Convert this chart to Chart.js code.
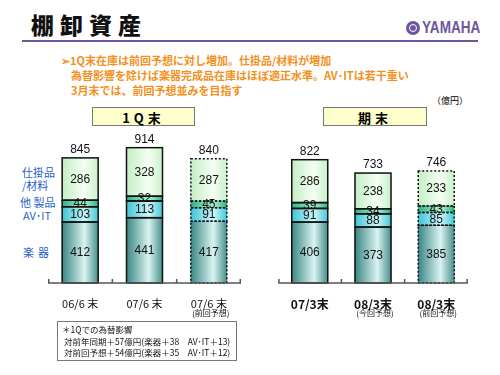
<!DOCTYPE html>
<html><head><meta charset="utf-8">
<script src="https://cdn.jsdelivr.net/npm/chart.js@4/dist/chart.umd.min.js"></script>
<style>
body{margin:0;width:500px;height:375px;background:#fff;position:relative;overflow:hidden;font-family:"Noto Sans CJK JP","Liberation Sans",sans-serif;}
.a{position:absolute;white-space:nowrap;}
#title{left:31px;top:8px;font-size:23px;font-weight:900;letter-spacing:6px;color:#111;line-height:32px;}
#rule{left:22px;top:40px;width:456px;height:2px;background:#6f55a0;}
#logo{left:406px;top:19px;height:18px;display:flex;align-items:center;color:#6f55a0;font-family:"Liberation Sans",sans-serif;font-weight:bold;font-size:17px;}
#logo .tx{display:inline-block;transform:scaleX(0.8);transform-origin:left center;}
#logo .em{width:14px;height:14px;border-radius:50%;background:#6f55a0;margin-right:2px;position:relative;flex:none;}
#logo .em:after{content:"";position:absolute;left:3px;top:3px;width:8px;height:8px;border-radius:50%;border:1px solid #fff;box-sizing:border-box;}
.note{color:#f39020;font-size:11px;font-weight:bold;line-height:15px;}
.hdr{background:#ffffcc;border:1px solid #777;height:19px;line-height:19px;text-align:center;font-weight:bold;font-size:13px;letter-spacing:4px;box-sizing:border-box;}
.lg{color:#1f5fc8;font-size:11px;line-height:13px;}
.cv{position:absolute;}
#foot{left:57px;top:321px;width:180px;height:40px;border:1px solid #777;box-sizing:border-box;font-size:8.5px;line-height:11.5px;padding:2px 0 0 4px;color:#111;}
</style></head><body>
<div class="a" id="title">棚卸資産</div>
<div class="a" id="rule"></div>
<div class="a" id="logo"><span class="em"></span><span class="tx">YAMAHA</span></div>
<div class="a note" style="left:61px;top:53px;">➢1Q末在庫は前回予想に対し増加。仕掛品/材料が増加</div>
<div class="a note" style="left:71px;top:68px;">為替影響を除けば楽器完成品在庫はほぼ適正水準。AV･ITは若干重い</div>
<div class="a note" style="left:71px;top:83px;">3月末では、前回予想並みを目指す</div>
<div class="a" style="left:432px;top:94px;font-size:9px;">（億円）</div>
<div class="a hdr" style="left:92px;top:107px;width:103px;">1Q末</div>
<div class="a hdr" style="left:323px;top:107px;width:104px;">期末</div>
<div class="a lg" style="left:22px;top:166px;">仕掛品</div>
<div class="a lg" style="left:22px;top:179px;">/材料</div>
<div class="a lg" style="left:20px;top:196px;">他 製品</div>
<div class="a lg" style="left:23px;top:209px;">AV･IT</div>
<div class="a lg" style="left:23px;top:246px;letter-spacing:4px;">楽器</div>
<div class="cv" style="left:48px;top:100px;width:193px;height:228px;"><canvas id="c1"></canvas></div>
<div class="cv" style="left:277px;top:100px;width:192px;height:228px;"><canvas id="c2"></canvas></div>
<div class="a" id="foot">＊1Qでの為替影響<br>&nbsp;対前年同期＋57億円(楽器＋38　AV･IT＋13)<br>&nbsp;対前回予想＋54億円(楽器＋35　AV･IT＋12)</div>
<script>
// ---- data ----
const leftLabels = ['06/6 末', '07/6 末', '07/6 末'];
const leftSub = ['', '', '(前回予想)'];
const leftGakki = [412, 441, 417];
const leftAvit = [103, 113, 91];
const leftOther = [44, 32, 45];
const leftWip = [286, 328, 287];
const leftTotal = [845, 914, 840];
const leftForecast = [false, false, true];

const rightLabels = ['07/3末', '08/3末', '08/3末'];
const rightSub = ['', '(今回予想)', '(前回予想)'];
const rightGakki = [406, 373, 385];
const rightAvit = [91, 88, 85];
const rightOther = [39, 34, 43];
const rightWip = [286, 238, 233];
const rightTotal = [822, 733, 746];
const rightForecast = [false, false, true];

// ---- styles ----
const STOPS = [
  ['#3a8784', '#d9f3f1', '#478f8c'],
  ['#3ec4d4', '#cdf7fa', '#44c6d6'],
  ['#2bb485', '#aef2d0', '#2bb485'],
  ['#c4eec4', '#f4fff4', '#c9f0c9']
];

const decor = {
  id: 'decor',
  beforeDatasetsDraw(chart) {
    const ctx = chart.ctx;
    chart.data.datasets.forEach((ds, di) => {
      const st = STOPS[di];
      chart.getDatasetMeta(di).data.forEach((el) => {
        const p = el.getProps(['x', 'width'], true);
        if (!isFinite(p.x)) return;
        const g = ctx.createLinearGradient(p.x - p.width / 2, 0, p.x + p.width / 2, 0);
        g.addColorStop(0, st[0]);
        g.addColorStop(0.62, st[1]);
        g.addColorStop(1, st[2]);
        el.options = Object.assign({}, el.options, { backgroundColor: g });
      });
    });
  },
  afterDatasetsDraw(chart, args, o) {
    const ctx = chart.ctx, ca = chart.chartArea, xs = chart.scales.x;
    ctx.save();
    // outlines
    chart.data.datasets.forEach((ds, di) => {
      chart.getDatasetMeta(di).data.forEach((el, i) => {
        const p = el.getProps(['x', 'y', 'base', 'width'], true);
        ctx.lineWidth = 1.5;
        ctx.strokeStyle = '#111';
        ctx.setLineDash(o.forecast[i] ? [2, 2] : []);
        ctx.strokeRect(p.x - p.width / 2, p.y, p.width, p.base - p.y);
      });
    });
    ctx.setLineDash([]);
    // axis line + ticks
    ctx.strokeStyle = '#555';
    ctx.lineWidth = 1.5;
    ctx.beginPath();
    ctx.moveTo(ca.left + 0.75, ca.bottom - 4);
    ctx.lineTo(ca.left + 0.75, ca.bottom);
    ctx.lineTo(ca.right - 0.75, ca.bottom);
    ctx.lineTo(ca.right - 0.75, ca.bottom - 4);
    const n = chart.data.labels.length;
    for (let i = 0; i < n - 1; i++) {
      const xm = (xs.getPixelForValue(i) + xs.getPixelForValue(i + 1)) / 2;
      ctx.moveTo(xm, ca.bottom);
      ctx.lineTo(xm, ca.bottom - 4);
    }
    ctx.stroke();
    // value labels
    ctx.fillStyle = '#111';
    ctx.font = '12px "Liberation Sans", sans-serif';
    ctx.textAlign = 'center';
    ctx.textBaseline = 'middle';
    chart.data.datasets.forEach((ds, di) => {
      chart.getDatasetMeta(di).data.forEach((el, i) => {
        const p = el.getProps(['x', 'y', 'base'], true);
        ctx.fillText(String(ds.data[i]), p.x, (p.y + p.base) / 2 + 0.5);
      });
    });
    const top = chart.getDatasetMeta(chart.data.datasets.length - 1).data;
    o.totals.forEach((t, i) => {
      const p = top[i].getProps(['x', 'y'], true);
      ctx.fillText(String(t), p.x, p.y - 8);
    });
    // sub labels
    ctx.font = '8px "Noto Sans CJK JP", sans-serif';
    o.sub.forEach((s, i) => {
      if (s) ctx.fillText(s, xs.getPixelForValue(i) + 2, ca.bottom + 30);
    });
    ctx.restore();
  }
};

function make(id, labels, sub, g, a, ot, w, totals, forecast, ymax, tickFont) {
  new Chart(document.getElementById(id), {
    type: 'bar',
    data: {
      labels: labels,
      datasets: [
        { label: '楽器', data: g, backgroundColor: STOPS[0][1] },
        { label: 'AV･IT', data: a, backgroundColor: STOPS[1][1] },
        { label: '他製品', data: ot, backgroundColor: STOPS[2][1] },
        { label: '仕掛品/材料', data: w, backgroundColor: STOPS[3][1] }
      ]
    },
    options: {
      responsive: true, maintainAspectRatio: false, animation: false,
      layout: { padding: 0 },
      datasets: { bar: { barThickness: 36, borderWidth: 0 } },
      plugins: { legend: { display: false }, tooltip: { enabled: false },
        decor: { totals: totals, forecast: forecast, sub: sub } },
      scales: {
        x: { stacked: true, grid: { display: false, drawTicks: false }, border: { display: false },
          ticks: { color: '#111', padding: 14, font: tickFont, maxRotation: 0 },
          afterFit: s => { s.height = 45; } },
        y: { stacked: true, display: false, min: 0, max: ymax }
      }
    },
    plugins: [decor]
  });
}
make('c1', leftLabels, leftSub, leftGakki, leftAvit, leftOther, leftWip, leftTotal, leftForecast, 1236,
  { family: '"Noto Sans CJK JP", sans-serif', size: 11 });
make('c2', rightLabels, rightSub, rightGakki, rightAvit, rightOther, rightWip, rightTotal, rightForecast, 1220,
  { family: '"Noto Sans CJK JP", sans-serif', size: 12, weight: 'bold' });
</script>
</body></html>
